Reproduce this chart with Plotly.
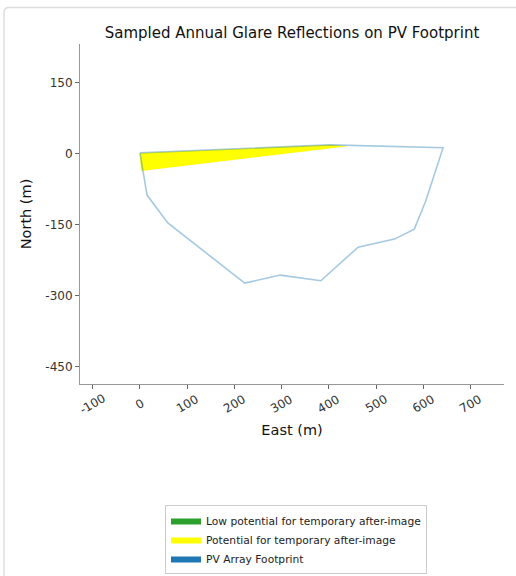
import plotly.graph_objects as go

# PV footprint outline (East m, North m)
pv_east = [0, 15, 59, 222, 297, 383, 462, 539, 581, 605, 642, 403, 0]
pv_north = [2, -87, -146, -273, -256, -268, -197, -180, -159, -100, 13, 19, 2]

# Glare region: potential for temporary after-image
glare_east = [0, 2, 440, 403, 0]
glare_north = [2, -36, 16, 19, 2]

x_ticks = [-100, 0, 100, 200, 300, 400, 500, 600, 700]
y_ticks = [150, 0, -150, -300, -450]

L, R, T, B = 80, 504, 44, 384
W, H = 516, 576
pw, ph = R - L, B - T

def px(x):
    return (x - L) / pw

def py(y):
    return (B - y) / ph

fig = go.Figure()

fig.add_trace(go.Scatter(x=glare_east, y=glare_north, fill="toself", mode="lines",
                         line=dict(width=0, color="#ffff00"), fillcolor="#ffff00",
                         showlegend=False, hoverinfo="skip"))
fig.add_trace(go.Scatter(x=pv_east, y=pv_north, mode="lines",
                         line=dict(width=1.6, color="rgba(31,119,180,0.4)"),
                         showlegend=False, hoverinfo="skip"))

for name, col in [("Low potential for temporary after-image", "#2ca02c"),
                  ("Potential for temporary after-image", "#ffff00"),
                  ("PV Array Footprint", "#1f77b4")]:
    fig.add_trace(go.Scatter(x=[None], y=[None], fill="toself", mode="lines",
                             line=dict(width=0, color=col), fillcolor=col, name=name))

r = 5
frame = (f"M {px(4)},{py(590)} L {px(4)},{py(7.5 + r)} "
         f"Q {px(4)},{py(7.5)} {px(4 + r)},{py(7.5)} L {px(530)},{py(7.5)}")

# x tick labels, rotated 30 degrees and centred under each tick
tick_annots = [dict(x=v, xref="x", y=py(404), yref="paper", text=str(v), showarrow=False,
                    textangle=-30, xanchor="center", yanchor="middle",
                    font=dict(size=12, color="#333"))
               for v in x_ticks]

fig.update_layout(
    width=W, height=H,
    margin=dict(l=L, r=W - R, t=T, b=H - B, autoexpand=False),
    paper_bgcolor="white", plot_bgcolor="white",
    font=dict(family="DejaVu Sans", color="#222", size=11),
    title=dict(text="Sampled Annual Glare Reflections on PV Footprint",
               x=(L + R) / 2 / W, xanchor="center", y=1 - 33 / H, yanchor="middle",
               font=dict(size=15, color="#111")),
    xaxis=dict(range=[-127, 771], tickvals=x_ticks, showticklabels=False,
               ticks="outside", ticklen=4, tickcolor="#666",
               showline=True, linecolor="#999", linewidth=1, showgrid=False, zeroline=False,
               automargin=False,
               title=dict(text="East (m)", font=dict(size=14.5, color="#111"), standoff=36)),
    yaxis=dict(range=[-486, 232], tickvals=y_ticks, ticktext=[str(v) for v in y_ticks],
               ticks="outside", ticklen=4, tickcolor="#666",
               showline=True, linecolor="#999", linewidth=1, showgrid=False, zeroline=False,
               automargin=False,
               title=dict(text="North (m)", font=dict(size=14.5, color="#111"), standoff=10),
               tickfont=dict(size=12, color="#333")),
    legend=dict(x=px(165), y=py(505), xanchor="left", yanchor="top",
                bgcolor="white", bordercolor="#ccc", borderwidth=1,
                font=dict(size=10.7, color="#222"), tracegroupgap=0,
                itemwidth=30),
    annotations=tick_annots,
    shapes=[dict(type="path", xref="paper", yref="paper", path=frame,
                 line=dict(color="#dddddd", width=1.5), layer="below")],
)

fig.write_html("out.html", config={"displayModeBar": False},
               post_script="document.body.style.margin='0';document.body.style.overflow='hidden';")
